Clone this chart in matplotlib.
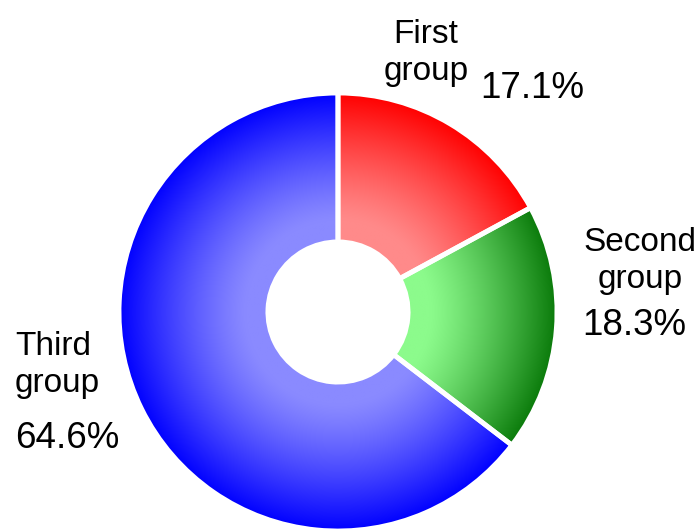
import numpy as np
import matplotlib.pyplot as plt
from matplotlib.colors import to_rgb

# data
groups = ['First\ngroup', 'Second\ngroup', 'Third\ngroup']
shares = [17.1, 18.3, 64.6]
pct_labels = ['17.1%', '18.3%', '64.6%']
inner_colors = ['#ff8a8a', '#8cfb8c', '#8a8aff']
outer_colors = ['#ff0000', '#0a7a0a', '#0000ff']

plt.rcParams['font.family'] = ['Liberation Sans', 'DejaVu Sans']

W, H = 700, 529
cx, cy, R = 338, 312, 219      # pie centre and radius, pixels
hole = 0.32                    # inner radius as fraction of R
fade_from = 0.42               # gradient starts here (fraction of R)

fig = plt.figure(figsize=(W / 100, H / 100), dpi=100)
ax = fig.add_axes([0, 0, 1, 1])

wedges, _ = ax.pie(shares, radius=1, startangle=90, counterclock=False,
                   wedgeprops=dict(width=1 - hole, facecolor='none',
                                   edgecolor='white', linewidth=3.5))

# radial gradient, light near the hole, saturated at the rim
n = 800
g = np.linspace(-1, 1, n)
xx, yy = np.meshgrid(g, g)
rr = np.sqrt(xx**2 + yy**2)
t = np.clip((rr - fade_from) / (1 - fade_from), 0, 1) ** 1.2

for w, c_in, c_out in zip(wedges, inner_colors, outer_colors):
    a = np.array(to_rgb(c_in))
    b = np.array(to_rgb(c_out))
    img = a + (b - a) * t[..., None]
    im = ax.imshow(img, extent=(-1, 1, -1, 1), origin='lower',
                   interpolation='bilinear', zorder=1)
    im.set_clip_path(w)
    w.set_zorder(3)

# pie() and imshow() reset the view, so set it last
ax.set_xlim(-cx / R, (W - cx) / R)
ax.set_ylim(-(H - cy) / R, cy / R)
ax.set_aspect('equal')
ax.axis('off')

# labels, positions in pixels
def px(x, y):
    return x / W, 1 - y / H

fs_lab, fs_pct = 24, 26.5
lab_pos = [(426, 80, 'center'), (640, 288, 'center'), (15, 392, 'left')]
pct_pos = [(532, 98, 'center'), (634, 335, 'center'), (15, 448, 'left')]

for name, (x, y, ha) in zip(groups, lab_pos):
    fig.text(*px(x, y), name, ha=ha, va='baseline', multialignment=ha,
             fontsize=fs_lab, linespacing=1.25)
for p, (x, y, ha) in zip(pct_labels, pct_pos):
    fig.text(*px(x, y), p, ha=ha, va='baseline', fontsize=fs_pct)

fig.savefig('out.png', dpi=100)
